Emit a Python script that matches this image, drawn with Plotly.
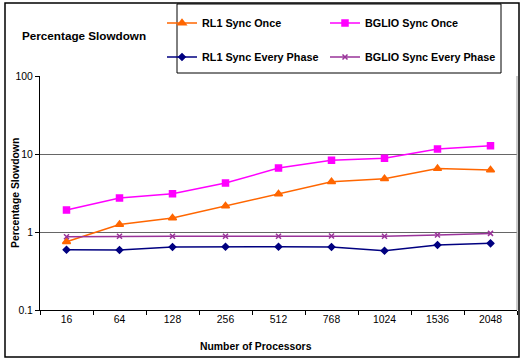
import plotly.graph_objects as go

processors = ["16", "64", "128", "256", "512", "768", "1024", "1536", "2048"]
rl1_once = [0.75, 1.25, 1.51, 2.15, 3.07, 4.4, 4.83, 6.5, 6.24]
bglio_once = [1.91, 2.73, 3.1, 4.25, 6.6, 8.3, 8.8, 11.6, 12.8]
rl1_every = [0.593, 0.588, 0.642, 0.648, 0.648, 0.642, 0.576, 0.68, 0.715]
bglio_every = [0.87, 0.88, 0.88, 0.88, 0.88, 0.89, 0.88, 0.915, 0.96]

FONT = "Liberation Sans, Arial, sans-serif"

fig = go.Figure()
series = [
    ("RL1 Sync Once", rl1_once, "#FF6600", "triangle-up", 7, "legend"),
    ("BGLIO Sync Once", bglio_once, "#FF00FF", "square", 6, "legend2"),
    ("RL1 Sync Every Phase", rl1_every, "#000080", "diamond", 5, "legend3"),
    ("BGLIO Sync Every Phase", bglio_every, "#993399", "x-thin-open", 5, "legend4"),
]
for name, vals, color, sym, size, lg in series:
    fig.add_trace(go.Scatter(
        x=processors, y=vals, name=name, mode="lines+markers",
        line=dict(color=color, width=1.5),
        marker=dict(symbol=sym, size=size, color=color,
                    line=dict(color=color, width=1.5)),
        legend=lg,
    ))

L, R, T, B = 40, 8, 76, 52
W, H = 525, 362
pw, ph = W - L - R, H - T - B

def px_x(p):
    return (p - L) / pw

def px_y(p):
    return (H - B - p) / ph

legend_common = dict(
    orientation="h", xanchor="left", yanchor="middle",
    bgcolor="rgba(0,0,0,0)", borderwidth=0,
    font=dict(family=FONT, size=10.8, color="black", weight="bold"),
    itemwidth=30,
)

fig.update_layout(
    width=W, height=H,
    margin=dict(l=L, r=R, t=T, b=B, pad=0),
    paper_bgcolor="white", plot_bgcolor="white",
    font=dict(family=FONT, size=10.4, color="black"),
    showlegend=True,
    legend=dict(x=px_x(162), y=px_y(23), **legend_common),
    legend2=dict(x=px_x(325), y=px_y(23), **legend_common),
    legend3=dict(x=px_x(162), y=px_y(57), **legend_common),
    legend4=dict(x=px_x(325), y=px_y(57), **legend_common),
    xaxis=dict(
        type="category", tickson="boundaries", ticks="outside", ticklen=4,
        tickcolor="black", showline=True, linecolor="black", linewidth=1,
        showgrid=False, tickfont=dict(size=10.4, family=FONT), range=[-0.5, 8.5],
        fixedrange=True,
    ),
    yaxis=dict(
        type="log", range=[-1, 2], tickvals=[0.1, 1, 10, 100],
        ticktext=["0.1", "1", "10", "100"], ticks="outside", ticklen=4,
        tickcolor="black", showline=True, linecolor="black", linewidth=1,
        showgrid=True, gridcolor="#666666", gridwidth=1, zeroline=False,
        tickfont=dict(size=10.4, family=FONT),
    ),
    shapes=[
        dict(type="rect", xref="paper", yref="paper",
             x0=px_x(5), x1=px_x(519), y0=px_y(357), y1=px_y(3),
             line=dict(color="black", width=1.5), layer="below"),
        dict(type="rect", xref="paper", yref="paper",
             x0=px_x(177), x1=px_x(501), y0=px_y(73), y1=px_y(4),
             line=dict(color="black", width=1), layer="below"),
        dict(type="line", xref="paper", yref="paper",
             x0=1, x1=1, y0=0, y1=1, line=dict(color="#999999", width=1)),
    ],
    annotations=[
        dict(text="<b>Percentage Slowdown</b>", xref="paper", yref="paper",
             x=px_x(20), y=px_y(36), xanchor="left", yanchor="middle",
             showarrow=False, font=dict(size=11.7, family=FONT)),
        dict(text="<b>Percentage Slowdown</b>", xref="paper", yref="paper",
             x=px_x(15), y=px_y(193), xanchor="center", yanchor="middle",
             textangle=-90, showarrow=False, font=dict(size=10.4, family=FONT)),
        dict(text="<b>Number of Processors</b>", xref="paper", yref="paper",
             x=px_x(256), y=px_y(346), xanchor="center", yanchor="middle",
             showarrow=False, font=dict(size=10.4, family=FONT)),
    ],
)

fig.write_html("out.html")
